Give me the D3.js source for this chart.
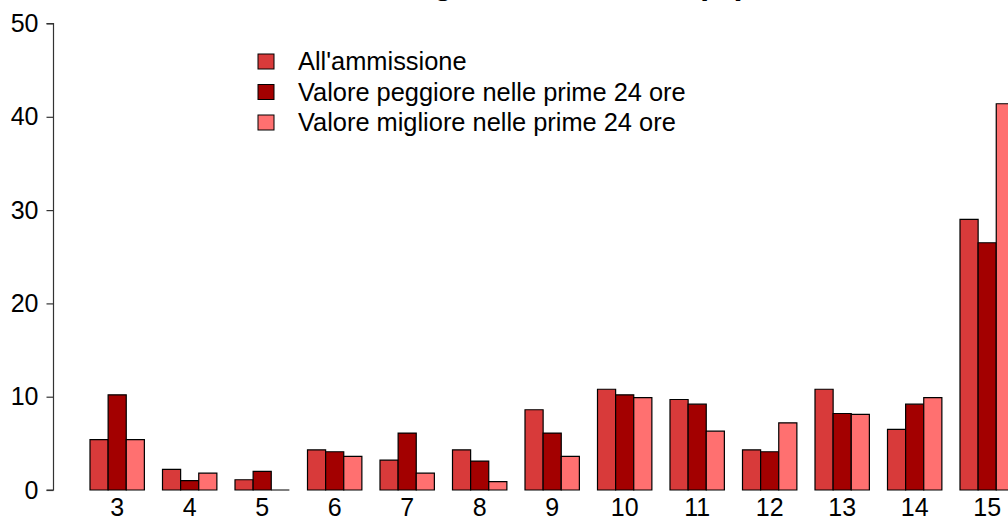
<!DOCTYPE html>
<html>
<head>
<meta charset="utf-8">
<script src="https://cdn.jsdelivr.net/npm/d3@7"></script>
<style>
  html, body { margin: 0; padding: 0; background: #fff; overflow: hidden; }
  svg { display: block; font-family: "Liberation Sans", Arial, Helvetica, sans-serif; }
</style>
</head>
<body>
<svg id="chart" width="1008" height="519"></svg>
<script>
// Glasgow Coma Scale score distribution, three measurement moments (%)
const categories = ["3", "4", "5", "6", "7", "8", "9", "10", "11", "12", "13", "14", "15"];
const seriesNames = ["All'ammissione", "Valore peggiore nelle prime 24 ore", "Valore migliore nelle prime 24 ore"];
const admission = [5.4, 2.2, 1.1, 4.3, 3.2, 4.3, 8.6, 10.8, 9.7, 4.3, 10.8, 6.5, 29.0];
const worst24h  = [10.2, 1.0, 2.0, 4.1, 6.1, 3.1, 6.1, 10.2, 9.2, 4.1, 8.2, 9.2, 26.5];
const best24h   = [5.4, 1.8, 0.0, 3.6, 1.8, 0.9, 3.6, 9.9, 6.3, 7.2, 8.1, 9.9, 41.4];
const yTicks = [0, 10, 20, 30, 40, 50];
const colors = ["#d83a3a", "#a30000", "#ff7070"];
const titleText = "Glasgow Coma Scale (%)";

const svg = d3.select("#chart");
const fontSize = 25;
const legendFontSize = 25.4;

const seriesValues = [admission, worst24h, best24h];
const rows = categories.map((c, i) => ({
  cat: c,
  values: seriesValues.map((s, k) => ({ key: k, value: s[i] }))
}));

// scales
const step = 72.5;
const x0 = d3.scaleBand()
  .domain(categories)
  .range([90 - 0.125 * step, 90 - 0.125 * step + 13 * step])
  .paddingInner(0.25)
  .paddingOuter(0.125);
const x1 = d3.scaleBand()
  .domain([0, 1, 2])
  .range([0, x0.bandwidth()])
  .padding(0);
const y = d3.scaleLinear().domain([0, 50]).range([490, 23.5]);

// title (sits above the plot area)
svg.append("text")
  .attr("x", 555)
  .attr("y", -6)
  .attr("text-anchor", "middle")
  .attr("font-size", 32)
  .attr("font-weight", "bold")
  .attr("fill", "#000")
  .text(titleText);

// bars, drawn as closed paths so zero-height bars still show their outline
const groups = svg.append("g").selectAll("g")
  .data(rows)
  .join("g")
  .attr("transform", d => `translate(${x0(d.cat)},0)`);

groups.selectAll("path")
  .data(d => d.values)
  .join("path")
  .attr("d", d => {
    const xl = x1(d.key), w = x1.bandwidth();
    const yt = y(d.value), yb = y(0);
    return `M${xl},${yb}V${yt}H${xl + w}V${yb}Z`;
  })
  .attr("fill", d => colors[d.key])
  .attr("stroke", "#000")
  .attr("stroke-width", 1.2)
  .attr("stroke-linejoin", "miter");

// category labels under each group
svg.append("g").selectAll("text")
  .data(categories)
  .join("text")
  .attr("x", d => x0(d) + x0.bandwidth() / 2)
  .attr("y", 516)
  .attr("text-anchor", "middle")
  .attr("font-size", fontSize)
  .attr("fill", "#000")
  .text(d => d);

// y axis on the left
const yAxis = d3.axisLeft(y)
  .tickValues(yTicks)
  .tickSize(7)
  .tickPadding(8)
  .tickFormat(d3.format("d"));
const ax = svg.append("g")
  .attr("transform", "translate(53.5,0)")
  .call(yAxis);
ax.select(".domain").attr("d", `M-7,${y(50)}H0V${y(0)}H-7`).attr("stroke", "#333").attr("stroke-width", 1.2);
ax.selectAll(".tick line").attr("stroke", "#333").attr("stroke-width", 1.2);
ax.selectAll(".tick text")
  .attr("font-size", fontSize)
  .attr("font-family", "Liberation Sans, Arial, sans-serif")
  .attr("fill", "#000");

// legend
const legend = svg.append("g")
  .selectAll("g")
  .data(seriesNames)
  .join("g")
  .attr("transform", (d, i) => `translate(258,${61.5 + i * 30.5})`);
legend.append("rect")
  .attr("x", 0).attr("y", -7.5)
  .attr("width", 16).attr("height", 15)
  .attr("fill", (d, i) => colors[i])
  .attr("stroke", "#000")
  .attr("stroke-width", 1);
legend.append("text")
  .attr("x", 40)
  .attr("y", 8.9)
  .attr("font-size", legendFontSize)
  .attr("fill", "#000")
  .text(d => d);
</script>
</body>
</html>
